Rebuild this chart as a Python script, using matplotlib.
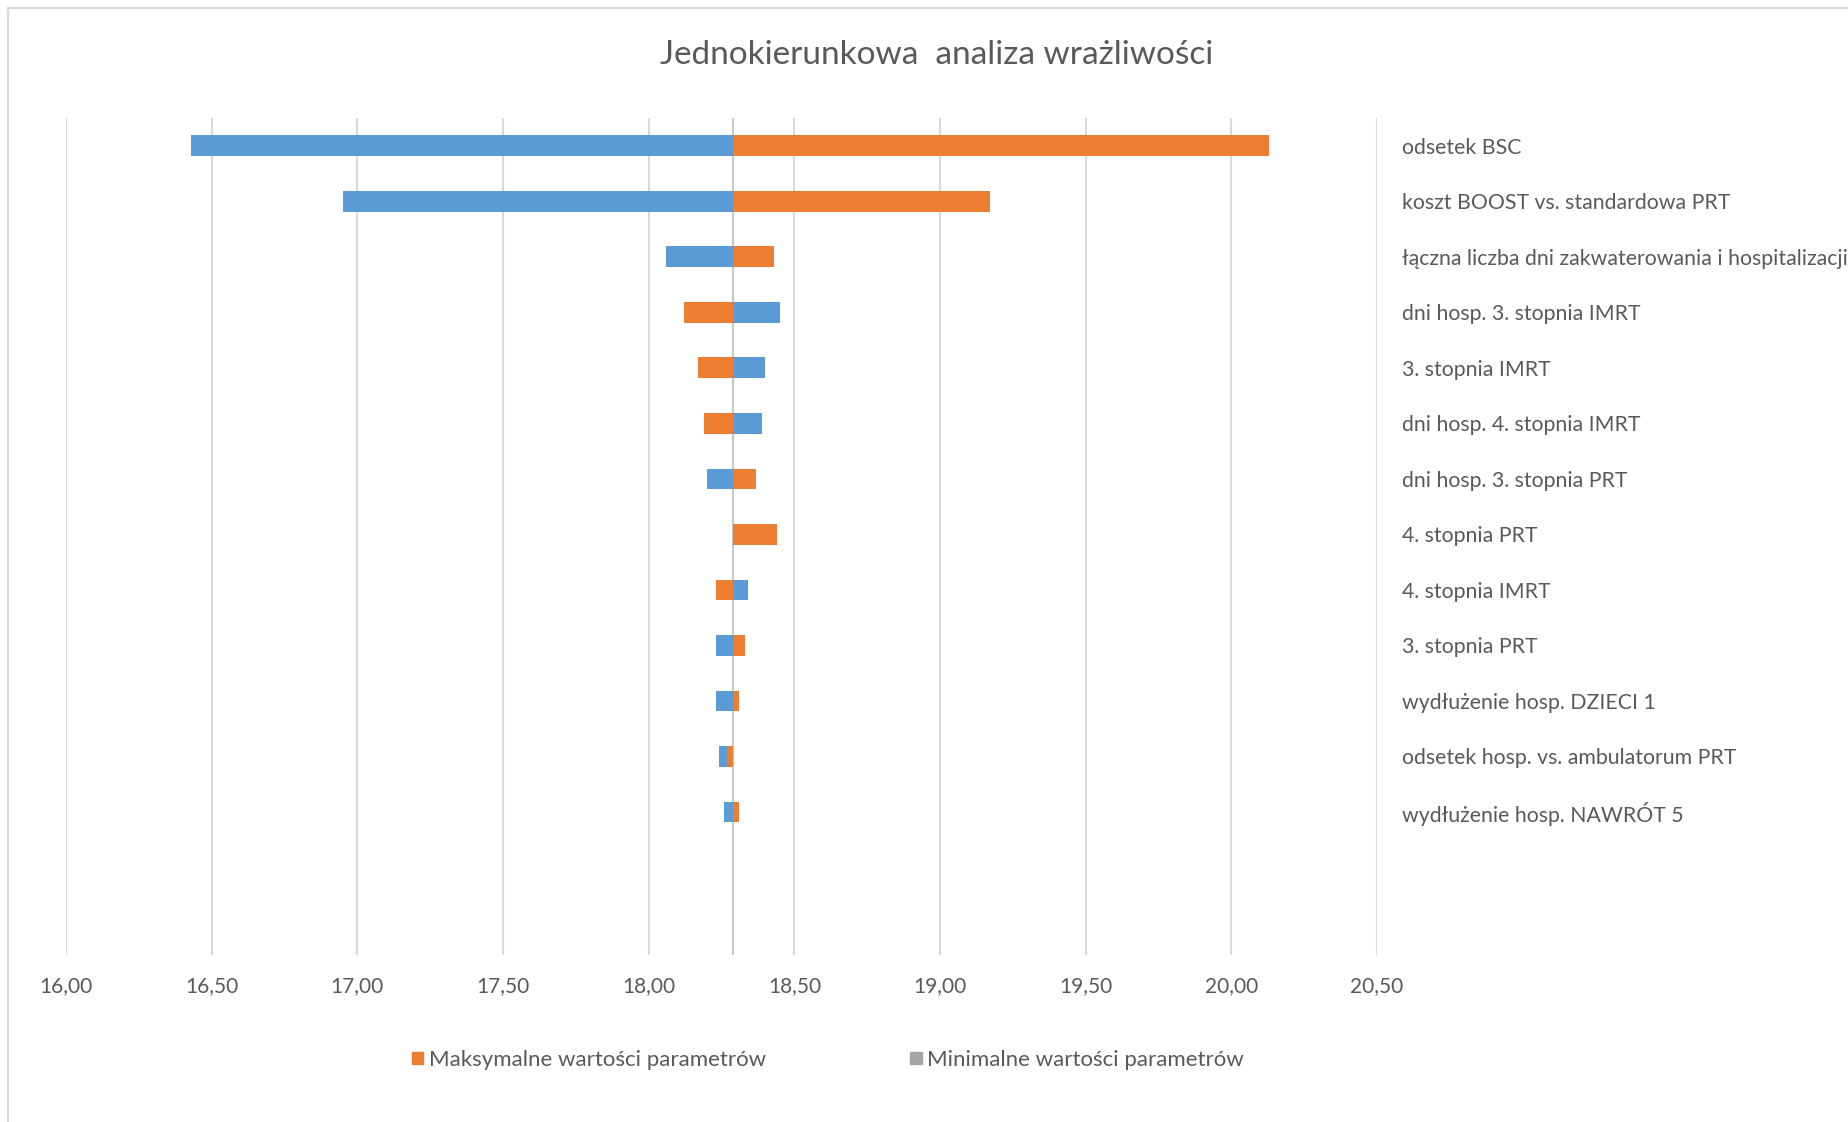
import matplotlib.pyplot as plt
from matplotlib.lines import Line2D
from matplotlib.patches import Patch
import numpy as np

# data (base value = 18.29)
categories = [
    "odsetek BSC",
    "koszt BOOST vs. standardowa PRT",
    "łączna liczba dni zakwaterowania i hospitalizacji",
    "dni hosp. 3. stopnia IMRT",
    "3. stopnia IMRT",
    "dni hosp. 4. stopnia IMRT",
    "dni hosp. 3. stopnia PRT",
    "4. stopnia PRT",
    "4. stopnia IMRT",
    "3. stopnia PRT",
    "wydłużenie hosp. DZIECI 1",
    "odsetek hosp. vs. ambulatorum PRT",
    "wydłużenie hosp. NAWRÓT 5",
]
max_vals = [20.13, 19.17, 18.43, 18.12, 18.17, 18.19, 18.37, 18.44, 18.23, 18.33, 18.31, 18.27, 18.31]
min_vals = [16.43, 16.95, 18.06, 18.45, 18.40, 18.39, 18.20, 18.29, 18.34, 18.23, 18.23, 18.24, 18.26]
base = 18.29
xticks = [16.0, 16.5, 17.0, 17.5, 18.0, 18.5, 19.0, 19.5, 20.0, 20.5]

BLUE = "#5B9BD5"
ORANGE = "#ED7D31"
TXT = "#595959"
GRID = "#D9D9D9"

plt.rcParams["font.family"] = ["Lato", "DejaVu Sans"]

fig = plt.figure(figsize=(18.49, 11.22), dpi=100)
ax = fig.add_axes([66 / 1849, 1 - 955 / 1122, (1377 - 66) / 1849, (955 - 118) / 1122])

y = np.arange(len(categories))
mins = np.array(min_vals) - base
maxs = np.array(max_vals) - base

ax.barh(y, mins, left=base, height=0.37, color=BLUE, zorder=3)
ax.barh(y, maxs, left=base, height=0.37, color=ORANGE, zorder=4)

ax.set_xlim(16.0, 20.5)
ax.set_ylim(14.58, -0.5)
ax.set_xticks(xticks, [f"{t:.2f}".replace(".", ",") for t in xticks])
ax.tick_params(axis="x", length=0, pad=15, labelsize=15, labelcolor=TXT)
ax.grid(axis="x", color=GRID, linewidth=1.5, zorder=0)
ax.axvline(base, color="#C8C8C8", linewidth=1.5, zorder=2)

ax.yaxis.tick_right()
ax.set_yticks(y, categories)
ax.tick_params(axis="y", length=0, pad=18, labelsize=15.3, labelcolor=TXT)

for s in ax.spines.values():
    s.set_visible(False)

fig.text(937 / 1849, 1 - 55 / 1122, "Jednokierunkowa  analiza wrażliwości",
         ha="center", va="center", fontsize=24, color=TXT)

handles = [Patch(color=ORANGE), Patch(color="#A5A5A5")]
fig.legend(handles, ["Maksymalne wartości parametrów", "Minimalne wartości parametrów"],
           loc="center", bbox_to_anchor=(828 / 1849, 1 - 1060 / 1122), ncol=2,
           frameon=False, fontsize=16, labelcolor=TXT, handlelength=0.5, handleheight=0.5,
           handletextpad=0.25, columnspacing=6.5)

# chart border (only left and top edges are inside the crop)
fig.add_artist(Line2D([8 / 1849, 8 / 1849], [0, 1 - 8 / 1122], color=GRID, linewidth=1.5))
fig.add_artist(Line2D([8 / 1849, 1], [1 - 8 / 1122, 1 - 8 / 1122], color=GRID, linewidth=1.5))

fig.savefig("out.png", dpi=100)
